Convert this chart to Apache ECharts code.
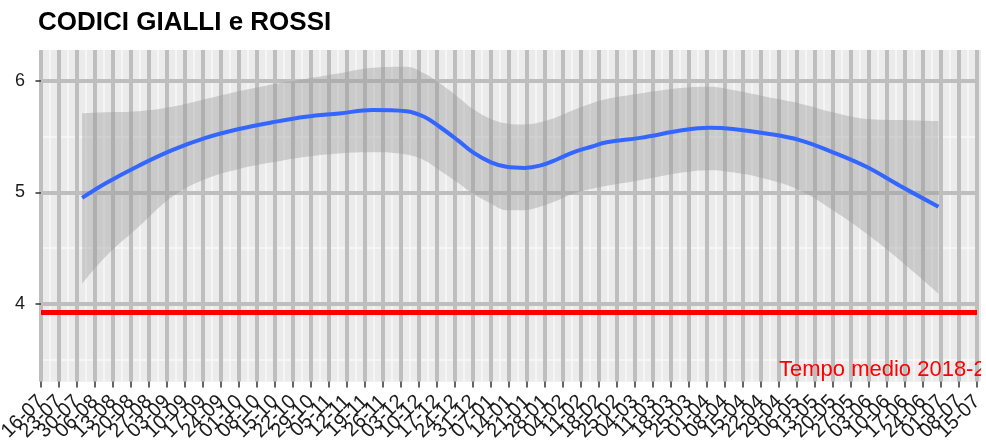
<!DOCTYPE html>
<html>
<head>
<meta charset="utf-8">
<script src="https://cdn.jsdelivr.net/npm/echarts@6/dist/echarts.min.js"></script>
<style>
  html, body { margin: 0; padding: 0; background: #ffffff; }
  #chart { width: 986px; height: 444px; }
</style>
</head>
<body>
<div id="chart"></div>
<script>
// Weekly x-axis ticks (Mondays), starting 16-07-2018
const startDate = '2018-07-16';
const weekLabels = ['16-07','23-07','30-07','06-08','13-08','20-08','27-08','03-09','10-09','17-09',
  '24-09','01-10','08-10','15-10','22-10','29-10','05-11','12-11','19-11','26-11','03-12','10-12',
  '17-12','24-12','31-12','07-01','14-01','21-01','28-01','04-02','11-02','18-02','25-02','04-03',
  '11-03','18-03','25-03','01-04','08-04','15-04','22-04','29-04','06-05','13-05','20-05','27-05',
  '03-06','10-06','17-06','24-06','01-07','08-07','15-07'];

// y-axis ticks
const yTicks = [4, 5, 6];
const yMinorTicks = [3.5, 4.5, 5.5];

// Smoothed waiting time (loess) with its confidence band
const smoothDates = ['2018-08-01','2018-08-10','2018-08-23','2018-09-05','2018-09-18','2018-10-01',
  '2018-10-14','2018-10-27','2018-11-09','2018-11-22','2018-12-05','2018-12-12','2018-12-18',
  '2018-12-25','2018-12-31','2019-01-07','2019-01-13','2019-01-20','2019-01-26','2019-02-02',
  '2019-02-08','2019-02-15','2019-02-21','2019-03-06','2019-03-23','2019-04-02','2019-04-11',
  '2019-04-24','2019-05-07','2019-05-20','2019-06-02','2019-06-15','2019-06-30'];
const smoothMean = [4.95, 5.08, 5.24, 5.38, 5.49, 5.57, 5.63, 5.68, 5.71, 5.74, 5.73, 5.68, 5.59,
  5.47, 5.36, 5.27, 5.23, 5.22, 5.24, 5.30, 5.36, 5.41, 5.45, 5.49, 5.56, 5.58, 5.57, 5.53, 5.47,
  5.36, 5.23, 5.06, 4.87];
const ciLower = [4.18, 4.42, 4.69, 4.96, 5.12, 5.21, 5.27, 5.32, 5.35, 5.36, 5.34, 5.29, 5.20,
  5.09, 4.99, 4.90, 4.84, 4.84, 4.87, 4.93, 4.99, 5.03, 5.06, 5.11, 5.18, 5.20, 5.18, 5.12, 5.02,
  4.84, 4.63, 4.39, 4.09];
const ciUpper = [5.71, 5.72, 5.73, 5.77, 5.84, 5.91, 5.97, 6.02, 6.07, 6.12, 6.13, 6.07, 5.98,
  5.86, 5.75, 5.66, 5.62, 5.61, 5.63, 5.68, 5.74, 5.80, 5.84, 5.89, 5.94, 5.95, 5.92, 5.86, 5.80,
  5.72, 5.66, 5.65, 5.64];

// Reference level: mean time 2018-2019
const tempoMedio = 3.92;
const tempoMedioLabel = 'Tempo medio 2018-2019';

const DAY_MS = 86400000;
function toUTC(s) {
  const p = s.split('-').map(Number);
  return Date.UTC(p[0], p[1] - 1, p[2]);
}
function dayOffset(s) {
  return (toUTC(s) - toUTC(startDate)) / DAY_MS;
}

const lastDay = (weekLabels.length - 1) * 7;
const xMinor = weekLabels.slice(0, -1).map((_, i) => i * 7 + 3.5);
const days = smoothDates.map(dayOffset);

const meanPts = days.map((d, i) => [d, smoothMean[i]]);
// band series keep the value first so that stacking is applied to y
const lowPts = days.map((d, i) => [ciLower[i], d]);
const spanPts = days.map((d, i) => [+(ciUpper[i] - ciLower[i]).toFixed(3), d]);

const FONT = 'Liberation Sans, Arial, sans-serif';
const GRID_GRAY = '#BEBEBE';
const MINOR_WHITE = '#F8F8F8';
const PANEL_BG = '#EBEBEB';
const SMOOTH = 0.4;

const chart = echarts.init(document.getElementById('chart'), null, { renderer: 'canvas' });

chart.setOption({
  animation: false,
  backgroundColor: '#ffffff',
  title: {
    text: 'CODICI GIALLI e ROSSI',
    left: 38,
    top: 10,
    padding: 0,
    textStyle: { fontFamily: FONT, fontSize: 26, fontWeight: 'bold', color: '#000000' }
  },
  grid: {
    show: true,
    left: 41, right: 9, top: 50, bottom: 62.5,
    backgroundColor: PANEL_BG,
    borderWidth: 0,
    containLabel: false,
    outerBoundsMode: 'none',
    z: -10
  },
  xAxis: [
    {
      // weekly labels, ticks and major grid lines
      type: 'category',
      data: weekLabels,
      boundaryGap: false,
      position: 'bottom',
      z: -2,
      axisLine: { show: false },
      axisTick: {
        show: true, length: 6, interval: 0, alignWithLabel: true,
        lineStyle: { color: '#333333', width: 1.5 }
      },
      axisLabel: {
        interval: 0,
        rotate: 45,
        margin: 17,
        fontFamily: FONT, fontSize: 20, color: '#1a1a1a'
      },
      splitLine: { show: true, interval: 0, lineStyle: { color: GRID_GRAY, width: 4 } }
    },
    {
      // day scale used by the data, with the half-week minor lines
      type: 'value',
      min: 0, max: lastDay,
      position: 'top',
      z: -4,
      axisLine: { show: false },
      axisTick: { show: false, customValues: xMinor },
      axisLabel: { show: false },
      splitLine: { show: true, lineStyle: { color: MINOR_WHITE, width: 1.5 } }
    }
  ],
  yAxis: [
    {
      type: 'value',
      min: 3.3, max: 6.28,
      z: -1,
      axisLine: { show: false },
      axisTick: {
        show: true, length: 5.5, customValues: yTicks,
        lineStyle: { color: '#333333', width: 1.5 }
      },
      axisLabel: {
        customValues: yTicks,
        margin: 16,
        fontFamily: FONT, fontSize: 18, color: '#1a1a1a'
      },
      splitLine: { show: true, lineStyle: { color: GRID_GRAY, width: 4 } }
    },
    {
      type: 'value',
      min: 3.3, max: 6.28,
      position: 'left',
      z: -5,
      axisLine: { show: false },
      axisTick: { show: false, customValues: yMinorTicks },
      axisLabel: { show: false },
      splitLine: { show: true, lineStyle: { color: MINOR_WHITE, width: 1.5 } }
    }
  ],
  series: [
    {
      name: 'tempoMedio',
      type: 'line',
      xAxisIndex: 1, yAxisIndex: 0,
      data: [],
      markLine: {
        silent: true,
        symbol: 'none',
        label: { show: false },
        lineStyle: { color: '#FF0000', width: 5, type: 'solid' },
        data: [{ yAxis: tempoMedio }]
      }
    },
    {
      name: 'ciBase',
      type: 'line',
      xAxisIndex: 1, yAxisIndex: 0,
      encode: { x: 1, y: 0 },
      stack: 'ci',
      data: lowPts,
      smooth: SMOOTH,
      symbol: 'none',
      lineStyle: { width: 0, opacity: 0 }
    },
    {
      name: 'ciBand',
      type: 'line',
      xAxisIndex: 1, yAxisIndex: 0,
      encode: { x: 1, y: 0 },
      stack: 'ci',
      data: spanPts,
      smooth: SMOOTH,
      symbol: 'none',
      lineStyle: { width: 0, opacity: 0 },
      areaStyle: { color: 'rgba(153,153,153,0.4)', opacity: 1 }
    },
    {
      name: 'media',
      type: 'line',
      xAxisIndex: 1, yAxisIndex: 0,
      data: meanPts,
      smooth: SMOOTH,
      symbol: 'none',
      lineStyle: { color: '#3366FF', width: 4 }
    }
  ],
  graphic: [
    {
      // panel background running slightly past the first and last week
      type: 'rect',
      left: 39, top: 50,
      z: -20,
      silent: true,
      shape: { width: 942, height: 331.5 },
      style: { fill: PANEL_BG }
    },
    {
      type: 'text',
      left: 779,
      top: 359,
      z: 10,
      style: { text: tempoMedioLabel, fill: '#FF0000', font: '22px ' + FONT }
    },
    {
      type: 'rect',
      left: 981, top: 352,
      z: 11,
      shape: { width: 6, height: 29 },
      style: { fill: '#ffffff' }
    }
  ]
});
</script>
</body>
</html>
